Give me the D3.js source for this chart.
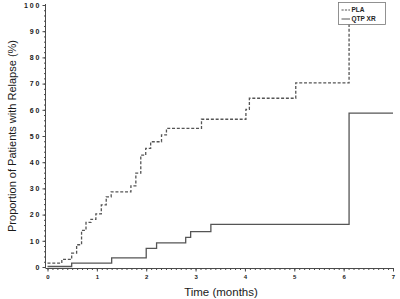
<!DOCTYPE html>
<html>
<head>
<meta charset="utf-8">
<script src="https://cdn.jsdelivr.net/npm/d3@7"></script>
<style>
  html, body { margin: 0; padding: 0; background: #fff; }
  svg { display: block; }
</style>
</head>
<body>
<div id="chart"></div>
<script>
// Kaplan-Meier style step curves
const plaTimes  = [0, 0.29, 0.49, 0.59, 0.69, 0.78, 0.88, 0.98, 1.09, 1.19, 1.29, 1.69, 1.79, 1.89, 1.99, 2.09, 2.31, 2.41, 3.12, 4.02, 4.09, 5.03, 6.11];
const plaValues = [1.5, 2.9, 5.3, 8.5, 14, 17, 18.2, 20.3, 23.7, 26.8, 28.7, 31, 35.8, 42.7, 45.3, 47.8, 50.4, 52.9, 56.4, 60.2, 64.4, 70.3, 100];
const plaEnd = 6.11;

const qtpTimes  = [0, 0.49, 1.3, 2.0, 2.21, 2.8, 2.9, 3.31, 6.11];
const qtpValues = [0.2, 1.5, 3.5, 7.1, 9.2, 11.3, 13.5, 16.3, 58.7];
const qtpEnd = 7;

const xTicks = [0, 1, 2, 3, 4, 5, 6, 7];
const yTicks = [0, 10, 20, 30, 40, 50, 60, 70, 80, 90, 100];
const legendLabels = ['PLA', 'QTP XR'];

const width = 400, height = 299;
const ink = '#4a4a4a';
const font = "'Liberation Sans', Arial, sans-serif";

const svg = d3.select('#chart')
  .append('svg')
  .attr('width', width)
  .attr('height', height);

const x = d3.scaleLinear().domain([0, 7]).range([47.5, 393]);
const y = d3.scaleLinear().domain([0, 100]).range([267, 5]);

function toPoints(times, values, end) {
  const pts = times.map((t, i) => [t, values[i]]);
  pts.push([end, values[values.length - 1]]);
  return pts;
}

const stepLine = d3.line()
  .x(d => x(d[0]))
  .y(d => y(d[1]))
  .curve(d3.curveStepAfter);

// y axis: major every 10, minor every 2
const yMinor = d3.range(0, 101, 2);
svg.append('g')
  .attr('transform', 'translate(45.5,0)')
  .call(d3.axisLeft(y).tickValues(yMinor).tickSize(1.5).tickFormat(''))
  .call(g => g.select('.domain').attr('d', `M0,${y(100) - 1}V${y(0) + 1}`));
const yAxis = svg.append('g')
  .attr('transform', 'translate(45.5,0)')
  .call(d3.axisLeft(y).tickValues(yTicks).tickSize(3).tickPadding(3)
    .tickFormat(d => String(d).split('').join(' ')));
yAxis.select('.domain').remove();

// x axis: major every month, minor every 0.1
const xMinor = d3.range(0, 70.5, 1).map(d => d / 10);
svg.append('g')
  .attr('transform', 'translate(0,268.5)')
  .call(d3.axisBottom(x).tickValues(xMinor).tickSize(1.5).tickFormat(''))
  .call(g => g.select('.domain').attr('d', `M45.5,0H${x(7) + 1}`));
const xAxis = svg.append('g')
  .attr('transform', 'translate(0,268.5)')
  .call(d3.axisBottom(x).tickValues(xTicks).tickSize(3).tickPadding(3)
    .tickFormat(d3.format('d')));
xAxis.select('.domain').remove();

svg.selectAll('.tick line, .domain').attr('stroke', ink);
yAxis.selectAll('text')
  .attr('font-family', font)
  .attr('font-size', 7).attr('font-weight', 'bold').attr('fill', '#1a1a1a');
xAxis.selectAll('text')
  .attr('font-family', font)
  .attr('font-size', 6).attr('font-weight', 'bold').attr('fill', '#1a1a1a');

// curves
svg.append('path')
  .datum(toPoints(plaTimes, plaValues, plaEnd))
  .attr('d', stepLine)
  .attr('fill', 'none')
  .attr('stroke', '#555')
  .attr('stroke-width', 1.3)
  .attr('stroke-dasharray', '3,1.8');

svg.append('path')
  .datum(toPoints(qtpTimes, qtpValues, qtpEnd))
  .attr('d', stepLine)
  .attr('fill', 'none')
  .attr('stroke', '#555')
  .attr('stroke-width', 1.3);

// legend
const legend = svg.append('g').attr('transform', 'translate(338.5,2.5)');
legend.append('rect')
  .attr('width', 47).attr('height', 22)
  .attr('fill', '#fff').attr('stroke', '#777').attr('stroke-width', 0.8);
legendLabels.forEach((name, i) => {
  const ly = 7.5 + i * 9;
  legend.append('line')
    .attr('x1', 3).attr('x2', 11.5).attr('y1', ly).attr('y2', ly)
    .attr('stroke', '#555').attr('stroke-width', 1)
    .attr('stroke-dasharray', i === 0 ? '2.2,1.2' : null);
  legend.append('text')
    .attr('x', 13).attr('y', ly + 2.2)
    .attr('font-family', font)
    .attr('font-size', 6.5).attr('font-weight', 'bold').attr('fill', '#222')
    .text(name);
});

// axis titles
svg.append('text')
  .attr('x', 221).attr('y', 296)
  .attr('text-anchor', 'middle')
  .attr('font-family', font)
  .attr('font-size', 11.5).attr('fill', '#1a1a1a')
  .text('Time (months)');

svg.append('text')
  .attr('transform', 'translate(16,136) rotate(-90)')
  .attr('text-anchor', 'middle')
  .attr('font-family', font)
  .attr('font-size', 11).attr('fill', '#1a1a1a')
  .text('Proportion of Patients with Relapse (%)');
</script>
</body>
</html>
